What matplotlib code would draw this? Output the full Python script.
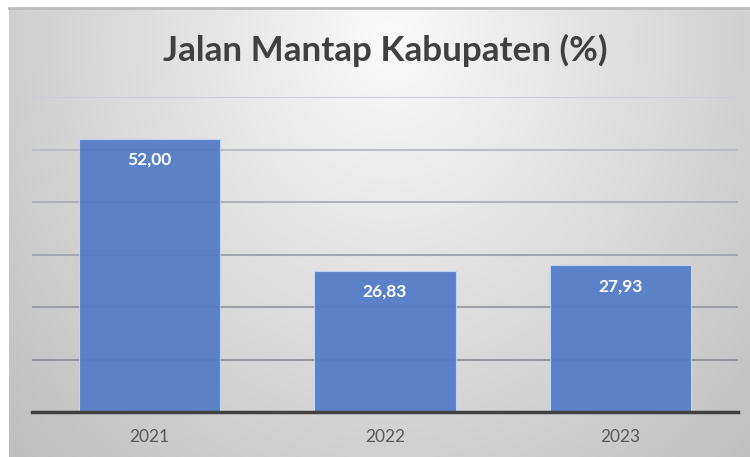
import numpy as np
import matplotlib
matplotlib.use("Agg")
import matplotlib.pyplot as plt

years = ["2021", "2022", "2023"]
values = [52.00, 26.83, 27.93]
value_labels = ["52,00", "26,83", "27,93"]
title = "Jalan Mantap Kabupaten (%)"
yticks = [0, 10, 20, 30, 40, 50, 60]

plt.rcParams['font.family'] = ['Lato', 'DejaVu Sans']

W, H = 750, 457
fig = plt.figure(figsize=(W / 100, H / 100), dpi=100)
fig.patch.set_facecolor("white")

# background with radial gradient
bx0, by0, bx1, by1 = 9, 8, 750, 457
bg = fig.add_axes([bx0 / W, 1 - by1 / H, (bx1 - bx0) / W, (by1 - by0) / H])
xs = np.linspace(bx0, bx1, 300)
ys = np.linspace(by0, by1, 200)
X, Y = np.meshgrid(xs, ys)
d = np.sqrt(((X - 390) / 420) ** 2 + ((Y - 40) / 480) ** 2)
c = np.clip(250 - 48 * d, 180, 252) / 255.0
img = np.dstack([c, c, c])
bg.imshow(img, aspect="auto", extent=[0, 1, 0, 1], origin="upper")
bg.set_xlim(0, 1); bg.set_ylim(0, 1)
bg.axis("off")
bg.plot([0, 1], [1, 1], color="#bdbdbd", lw=2, transform=bg.transAxes, clip_on=False)

# main axes
px0, py0, px1, py1 = 32, 97, 738, 412
ax = fig.add_axes([px0 / W, 1 - py1 / H, (px1 - px0) / W, (py1 - py0) / H])
ax.patch.set_alpha(0)
x = np.arange(len(years))
bars = ax.bar(x, values, width=0.6, color="#5b81c9", edgecolor="#c5d4ee", linewidth=0.8, zorder=3)
ax.set_xlim(-0.5, len(years) - 0.5)
ax.set_ylim(0, 60)
ax.set_yticks(yticks)
ax.set_yticklabels([])
ax.tick_params(axis="y", length=0)
ax.set_xticks(x)
ax.set_xticklabels(years, fontsize=12.5, color="#595959")
ax.tick_params(axis="x", length=0, pad=12)
for s in ["top", "right", "left"]:
    ax.spines[s].set_visible(False)
ax.spines["bottom"].set_color("#404040")
ax.spines["bottom"].set_linewidth(2.5)
ax.spines["bottom"].set_zorder(5)

grid_colors = ["#a0a0a0", "#a0a0a0", "#a8a8a8", "#b0b0b0", "#bcbcbc", "#c8c8c8", "#dcdcdc"]
for t, col in zip(yticks, grid_colors):
    if t == 0:
        continue
    ax.axhline(t, color=col, lw=1.5, zorder=1)
# bars partially show grid through (Excel transparency effect)
for t in yticks[1:]:
    ax.axhline(t, color="#3f5f9a", lw=1.2, alpha=0.12, zorder=4)

for xi, v, lab in zip(x, values, value_labels):
    ax.annotate(lab, (xi, v), xytext=(0, -15), textcoords="offset points",
                ha="center", va="center", color="white", fontsize=12.5,
                fontweight="bold", zorder=6)

t = fig.text(385.5 / W, 1 - 50 / H, title, ha="center", va="center",
             fontsize=24, fontweight="bold", color="#404040")
fig.canvas.draw()
bb = t.get_window_extent()
t.set_fontsize(24 * 445 / bb.width)

fig.savefig("out.png", dpi=100)
